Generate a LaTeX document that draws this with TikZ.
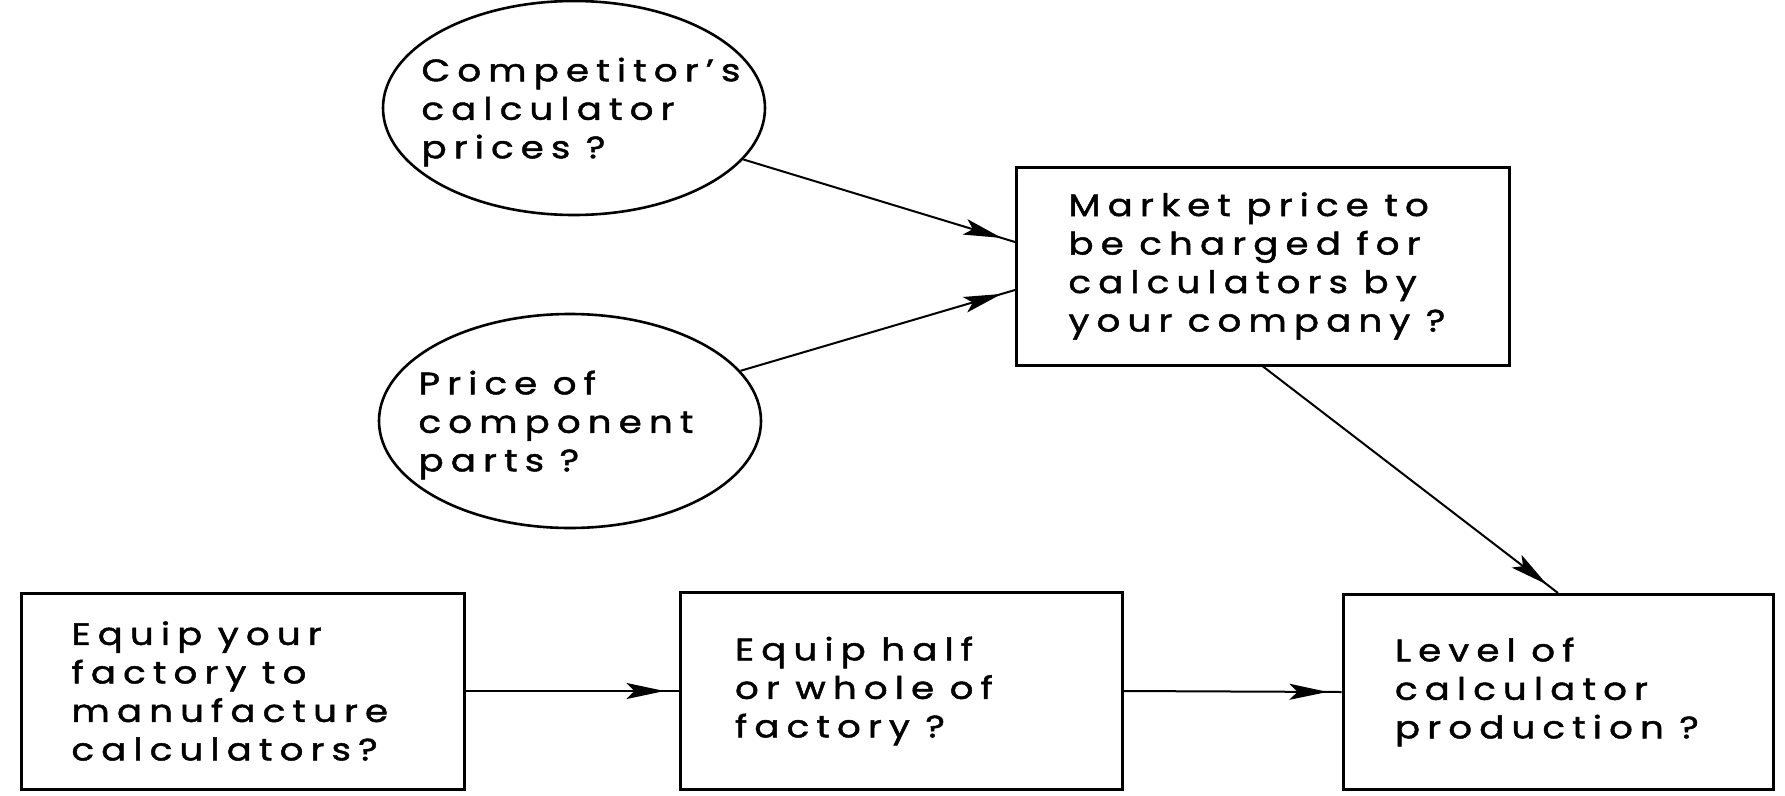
\documentclass[tikz,border=0pt]{standalone}
\usepackage{fontspec}
\setmainfont{Poppins}[LetterSpace=23, FakeStretch=1.2, FakeBold=1.5]
\usetikzlibrary{shapes.geometric,arrows.meta,decorations.markings,calc}
% fixed gap between words
\newcommand\wgap{\hspace{0.5em}}

\begin{document}
\begin{tikzpicture}[x=1pt,y=-1pt,
  txt/.style={font=\fontsize{31}{38.5}\selectfont},
  qbox/.style={draw, line width=3pt, rectangle, align=left, txt},
  qell/.style={draw, line width=2.6pt, ellipse, inner sep=0pt,
               minimum width=382, minimum height=214},
  qtext/.style={txt, align=left, inner sep=0pt},
  flow/.style={line width=2pt, postaction={decorate},
    decoration={markings, mark=at position -14pt with
      {\arrow{Stealth[length=38pt,width=16pt,inset=8pt]}}}}
]
\useasboundingbox (0,0) rectangle (1785,795);
\fill[white] (0,0) rectangle (1785,795);

% question ellipses and their texts
\node[qell] (comp) at (574,108) {};
\node[qtext] (comptxt) at (581,112)
  {Competitor's\\calculator\\prices\wgap?};
\node[qell] (parts) at (570,421) {};
\node[qtext] (partstxt) at (556,425)
  {Price\wgap of\\component\\parts\wgap?};

% question boxes
\node[qbox, minimum width=493, minimum height=198, inner xsep=52pt,
      text width=389] (market) at (1263,266)
  {Market\wgap price\wgap to\\be\wgap charged\wgap for\\calculators\wgap by\\your\wgap company\wgap?};

\node[qbox, minimum width=443, minimum height=196, inner xsep=50pt,
      text width=343] (equip) at (243,691)
  {Equip\wgap your\\factory\wgap to\\manufacture\\calculators?};
\node[qbox, minimum width=442, minimum height=197, inner xsep=55pt,
      text width=332] (half) at (901,691)
  {Equip\wgap half\\or\wgap whole\wgap of\\factory\wgap?};
\node[qbox, minimum width=430, minimum height=195, inner xsep=52pt,
      text width=326] (level) at (1558,692)
  {Level\wgap of\\calculator\\production\wgap?};

% influences
\draw[flow] (comp) -- ($(market.west)+(0,-24)$);
\draw[flow] (parts) -- ($(market.west)+(0,24)$);
\draw[flow] (market.south) -- (level.north);
\draw[flow] (equip.east) -- (half.west);
\draw[flow] (half.east) -- (level.west);
\end{tikzpicture}
\end{document}
